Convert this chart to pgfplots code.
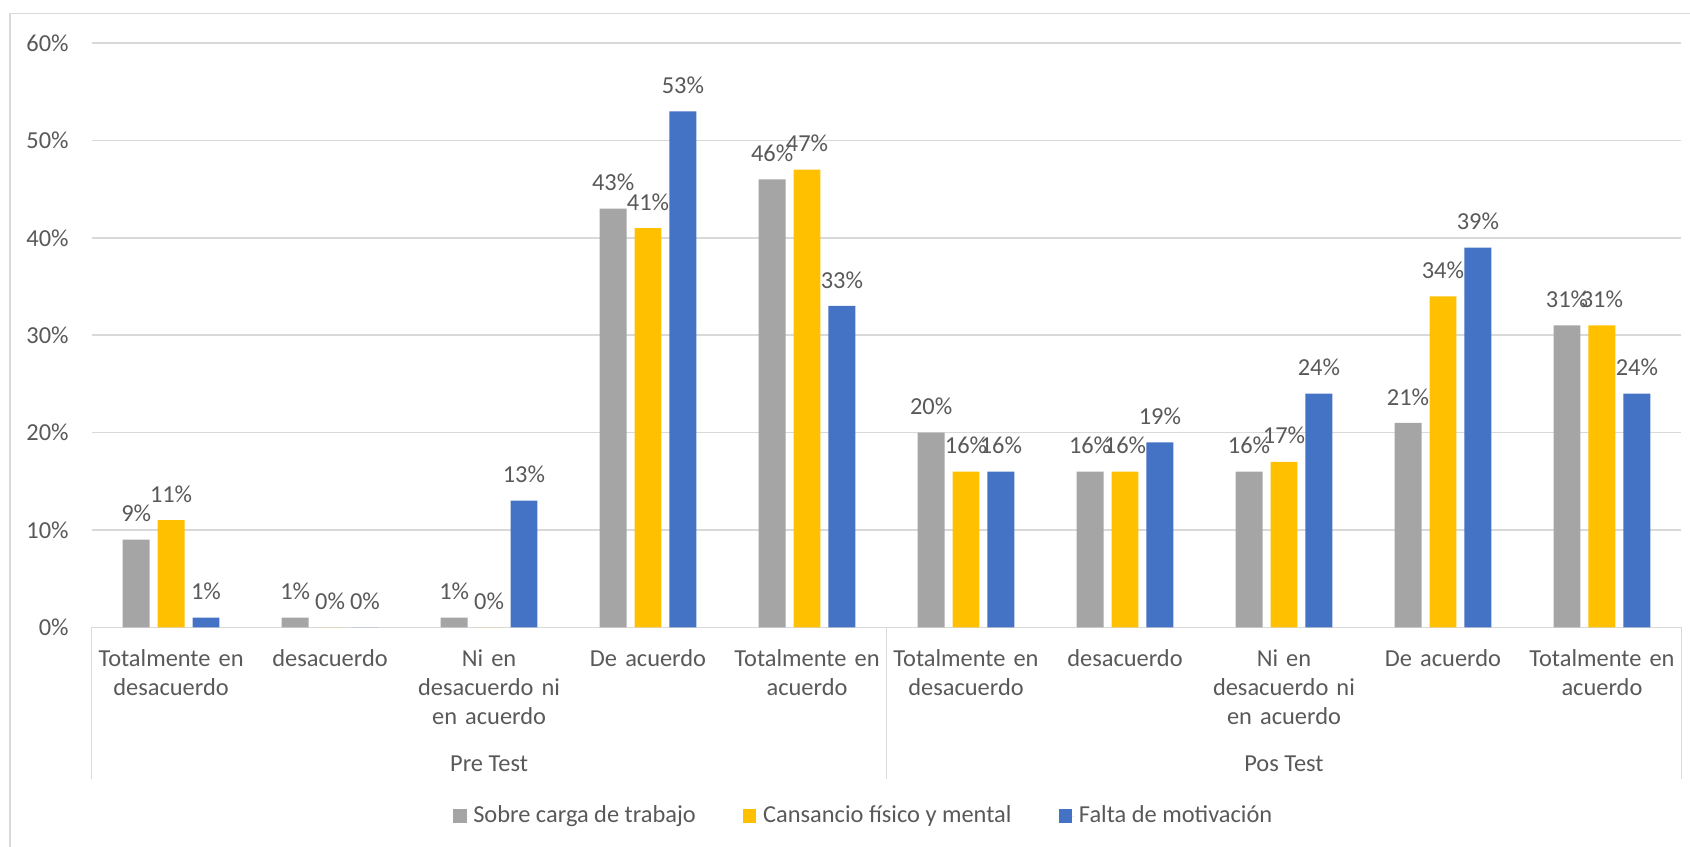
\documentclass[border=0pt]{standalone}
\usepackage{pgfplots}
\pgfplotsset{compat=1.18}
\usepackage{fontspec}
\setmainfont{Carlito}
\definecolor{cgray}{HTML}{A5A5A5}
\definecolor{cyel}{HTML}{FFC000}
\definecolor{cblue}{HTML}{4472C4}
\definecolor{ctext}{HTML}{595959}
\definecolor{cgrid}{HTML}{D9D9D9}
\newcommand{\lbl}{\fontsize{12.2}{14.5}\selectfont}
\begin{document}
\begin{tikzpicture}
\useasboundingbox (-45.8pt,-109.35pt) rectangle (799.2pt,313.65pt);
\draw[cgrid, line width=0.75pt] (-40.8pt,-120pt) -- (-40.8pt,307pt) -- (810pt,307pt);
\begin{axis}[
  at={(0,0)}, anchor=south west,
  scale only axis, width=794.9pt, height=292.1pt,
  xmin=-0.5, xmax=9.5, ymin=0, ymax=60,
  ybar=4pt, bar width=13.45pt,
  axis line style={draw=none},
  ymajorgrids, major grid style={cgrid, line width=0.75pt},
  ytick={0,10,20,30,40,50,60},
  yticklabel={\pgfmathprintnumber{\tick}\%},
  xtick={0,...,9},
  xticklabels={{Totalmente en\\desacuerdo}, desacuerdo, {Ni en\\desacuerdo ni\\en acuerdo}, De acuerdo, {Totalmente en\\acuerdo},
                {Totalmente en\\desacuerdo}, desacuerdo, {Ni en\\desacuerdo ni\\en acuerdo}, De acuerdo, {Totalmente en\\acuerdo}},
  major tick length=0pt,
  /pgf/number format/assume math mode=true,
  tick label style={font=\lbl, text=ctext},
  yticklabel style={anchor=east, inner sep=0pt, xshift=-11.3pt},
  xticklabel style={anchor=base, inner sep=0pt, yshift=-19.7pt, text width=110pt, align=center},
  nodes near coords={\pgfmathprintnumber{\pgfplotspointmeta}\%},
  every node near coord/.append style={font=\lbl, text=ctext, inner sep=0pt, text depth=0pt, yshift=8.7pt},
  clip=false,
  legend style={draw=none, fill=none, at={(0.4862,-0.323)}, anchor=center, legend columns=-1, font=\lbl, text=ctext,
    /tikz/every even column/.append style={column sep=21.5pt}},
  every axis plot post/.append style={legend image code/.code={\path (0pt,0pt) -- (8.2pt,0pt);\fill[#1] (0pt,-3.42pt) rectangle (6.85pt,3.42pt);}},
]
\addplot[fill=cgray, draw=none] coordinates {(0,9) (1,1) (2,1) (3,43) (4,46) (5,20) (6,16) (7,16) (8,21) (9,31)};
\addplot[fill=cyel, draw=none] coordinates {(0,11) (1,0) (2,0) (3,41) (4,47) (5,16) (6,16) (7,17) (8,34) (9,31)};
\addplot[fill=cblue, draw=none] coordinates {(0,1) (1,0) (2,13) (3,53) (4,33) (5,16) (6,19) (7,24) (8,39) (9,24)};
\legend{Sobre carga de trabajo, Cansancio físico y mental, Falta de motivación}
\draw[cgrid, line width=0.75pt] (axis cs:-0.5,0) -- ([yshift=-75.8pt]axis cs:-0.5,0);
\draw[cgrid, line width=0.75pt] (axis cs:4.5,0) -- ([yshift=-75.8pt]axis cs:4.5,0);
\draw[cgrid, line width=0.75pt] (axis cs:9.5,0) -- ([yshift=-75.8pt]axis cs:9.5,0);
\node[font=\lbl, text=ctext, anchor=base, inner sep=0pt] at ([yshift=-71.9pt]axis cs:2,0) {Pre Test};
\node[font=\lbl, text=ctext, anchor=base, inner sep=0pt] at ([yshift=-71.9pt]axis cs:7,0) {Pos Test};
\end{axis}
\end{tikzpicture}
\end{document}
